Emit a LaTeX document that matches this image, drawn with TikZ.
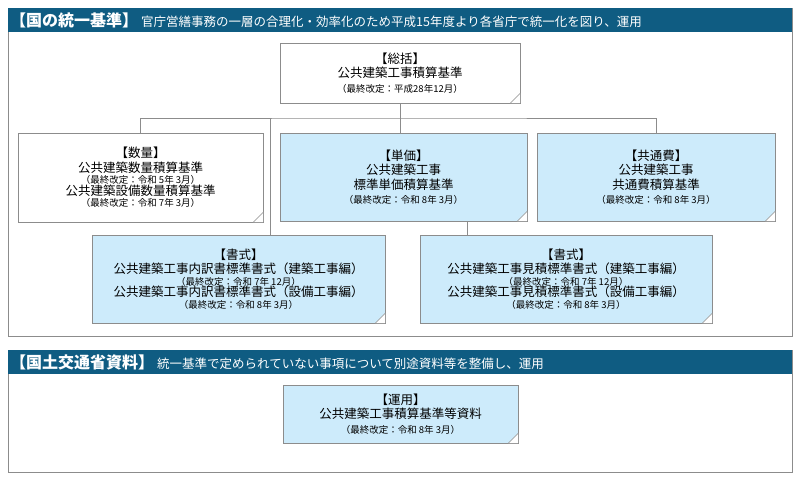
\documentclass[tikz,border=0pt]{standalone}
\usepackage{fontspec}
\setmainfont{Noto Sans CJK JP}
\usetikzlibrary{positioning}
\definecolor{hdrblue}{HTML}{0F5C82}
\definecolor{noteblue}{HTML}{CDEBFB}
\definecolor{framegray}{HTML}{8C8C8C}
\tikzset{
  note/.style={draw=framegray, fill=white, align=center, inner sep=2pt,
    font=\fontsize{12.5}{14.5}\selectfont},
  bluenote/.style={note, fill=noteblue},
  link/.style={draw=framegray, line width=0.6pt},
}
\newcommand{\rev}[1]{{\fontsize{9.5}{12}\selectfont （最終改定：#1）}}
% folded corner on a note
\newcommand{\fold}[1]{%
  \fill[white] ([xshift=-10pt]#1.south east) -- (#1.south east) -- ([yshift=10pt]#1.south east) -- cycle;
  \draw[framegray, line width=0.5pt] ([xshift=-10pt]#1.south east) -- ([yshift=10pt]#1.south east)
    .. controls ([xshift=-6pt,yshift=4pt]#1.south east) .. ([xshift=-10pt]#1.south east);}
\begin{document}
\begin{tikzpicture}[x=1pt,y=-1pt]
  \useasboundingbox (0,0) rectangle (800,480);
  % frames
  \draw[framegray] (8,8) rectangle (792,336);
  \draw[framegray] (8,350) rectangle (792,472);
  \fill[hdrblue] (8,8) rectangle (792,32);
  \fill[hdrblue] (8,350) rectangle (792,374);
  \node[anchor=west, text=white, inner sep=0pt] (hdr1) at (10,20)
    {{\fontsize{16}{18}\selectfont\bfseries 【国の統一基準】}\hspace{3pt}{\fontsize{12.5}{14}\selectfont 官庁営繕事務の一層の合理化・効率化のため平成15年度より各省庁で統一化を図り、運用}};
  \node[anchor=west, text=white, inner sep=0pt] (hdr2) at (10,362)
    {{\fontsize{16}{18}\selectfont\bfseries 【国土交通省資料】}\hspace{3pt}{\fontsize{12.5}{14}\selectfont 統一基準で定められていない事項について別途資料等を整備し、運用}};
  %
  \node[note, minimum width=240pt, minimum height=60pt] (total) at (400,73)
    {【総括】\\公共建築工事積算基準\\\rev{平成28年12月}};
  \node[note, minimum width=245pt, minimum height=89pt] (qty) at (140.5,177.5)
    {【数量】\\公共建築数量積算基準\\[-3pt]\rev{令和 5年 3月}\\[-3pt]公共建築設備数量積算基準\\[-3pt]\rev{令和 7年 3月}};
  \node[bluenote, minimum width=247pt, minimum height=88pt] (unit) at (403.5,177)
    {【単価】\\公共建築工事\\標準単価積算基準\\\rev{令和 8年 3月}};
  \node[bluenote, minimum width=238pt, minimum height=88pt] (common) at (656,177)
    {【共通費】\\公共建築工事\\共通費積算基準\\\rev{令和 8年 3月}};
  \node[bluenote, minimum width=293pt, minimum height=88pt] (fmtA) at (238.5,279)
    {【書式】\\公共建築工事内訳書標準書式（建築工事編）\\[-3pt]\rev{令和 7年 12月}\\[-3pt]公共建築工事内訳書標準書式（設備工事編）\\[-3pt]\rev{令和 8年 3月}};
  \node[bluenote, minimum width=292pt, minimum height=88pt] (fmtB) at (566,279)
    {【書式】\\公共建築工事見積標準書式（建築工事編）\\[-3pt]\rev{令和 7年 12月}\\[-3pt]公共建築工事見積標準書式（設備工事編）\\[-3pt]\rev{令和 8年 3月}};
  \node[bluenote, minimum width=235pt, minimum height=58pt] (ops) at (400.5,414)
    {【運用】\\公共建築工事積算基準等資料\\\rev{令和 8年 3月}};
  \foreach \n in {total,qty,unit,common,fmtA,fmtB,ops} {\fold{\n}}
  % connectors
  \coordinate (bus) at (400,118);
  \coordinate (tapA) at (270,118);
  \coordinate (tapB) at (467,0);
  \draw[link] (total) -- (bus);
  \draw[link] (qty.north) |- (bus) -| (common.north);
  \draw[link] (bus) -- (bus |- unit.north);
  \draw[link] (tapA) -- (tapA |- fmtA.north);
  \draw[link] (tapB |- unit.south) -- (tapB |- fmtB.north);
\end{tikzpicture}
\end{document}
